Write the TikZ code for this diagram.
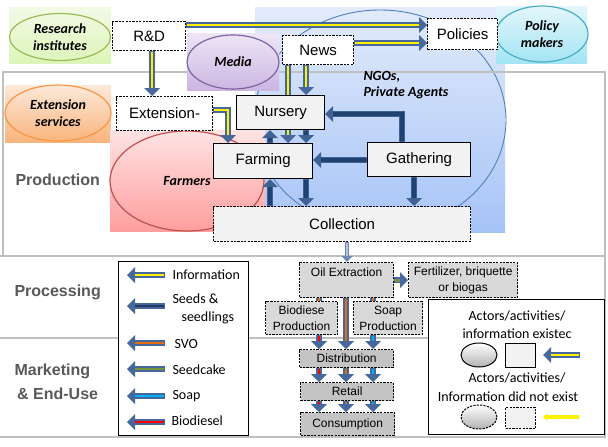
\documentclass[tikz,border=0pt]{standalone}
\usepackage{fontspec}
\setmainfont{Liberation Sans}
\newfontfamily\carl{Carlito}
\usetikzlibrary{arrows.meta,shapes.geometric}
\pgfdeclarelayer{shapes}
\pgfdeclarelayer{flows}
\pgfsetlayers{shapes,flows,main}
\definecolor{bord}{HTML}{46689C}
\definecolor{navy}{HTML}{1F3864}
\definecolor{darkb}{HTML}{1F4272}
\definecolor{darkbord}{HTML}{3D6293}
\definecolor{svo}{HTML}{E46C0A}
\definecolor{cake}{HTML}{77933C}
\definecolor{soapc}{HTML}{00B0F0}
\definecolor{dies}{HTML}{FF0000}
\definecolor{lanec}{HTML}{C0C0C0}
\definecolor{lanetxt}{HTML}{595959}
\definecolor{boxfill}{HTML}{F2F2F2}
\definecolor{pfill}{HTML}{D9D9D9}
\definecolor{mfill}{HTML}{C4C4C4}
\definecolor{ngotop}{HTML}{E2EBFB}
\definecolor{ngobot}{HTML}{A6C3F7}
\definecolor{ngoline}{HTML}{4F81BD}
\definecolor{ritop}{HTML}{F2FAE6}
\definecolor{ribot}{HTML}{DDF5B8}
\definecolor{riline}{HTML}{9BBB59}
\definecolor{extop}{HTML}{FDE9D9}
\definecolor{exbot}{HTML}{F9B47C}
\definecolor{exline}{HTML}{F79646}
\definecolor{metop}{HTML}{EEE6F6}
\definecolor{mebot}{HTML}{CBB6E2}
\definecolor{meline}{HTML}{8064A2}
\definecolor{potop}{HTML}{E3F6FB}
\definecolor{pobot}{HTML}{A3E4F4}
\definecolor{poline}{HTML}{4BACC6}
\definecolor{fatop}{HTML}{FFE3E3}
\definecolor{fabot}{HTML}{FF9E9E}
\definecolor{faline}{HTML}{C0504D}
\definecolor{thinb}{HTML}{6A88B2}
\definecolor{thinin}{HTML}{B7C4D6}

\tikzset{
  flowout/.style={draw=#1, line width=6pt, -{Triangle[length=8pt,width=16pt,line width=0pt]}},
  flowin/.style={draw=#1, line width=2.8pt, shorten >=8pt, shorten <=1.2pt},
  darkin/.style={draw=#1, line width=3.6pt, shorten >=8pt, shorten <=0.8pt},
  stubout/.style={draw=#1, line width=6pt},
  stubin/.style={draw=#1, line width=2.8pt},
  sz/.style 2 args={minimum width=#1, minimum height=#2},
  box/.style={rectangle, draw=black, line width=1.2pt, inner sep=0pt, anchor=north west,
              font=\fontsize{15}{18}\selectfont, fill=boxfill},
  dbox/.style={box, dash pattern=on 2.2pt off 1.2pt},
  pbox/.style={dbox, fill=pfill, font=\fontsize{12}{16}\selectfont, align=center},
  mbox/.style={dbox, fill=mfill, font=\fontsize{12}{16}\selectfont},
  actor/.style={ellipse, line width=1.2pt, inner sep=0pt, align=center,
                font=\carl\bfseries\itshape\fontsize{14}{17.5}\selectfont},
  lanelab/.style={anchor=west, align=left, text=lanetxt, font=\bfseries\fontsize{16}{24}\selectfont},
  legtxt/.style={anchor=west, align=left, font=\carl\fontsize{14}{18}\selectfont},
  rlegtxt/.style={font=\carl\fontsize{14}{17}\selectfont},
}
\newcommand\flw[3][bord]{\draw[flowout=#1] #3; \draw[flowin=#2] #3;}
\newcommand\dflw[1]{\draw[flowout=darkbord] #1; \draw[darkin=darkb] #1;}
\newcommand\stub[3][bord]{\draw[stubout=#1] #3; \draw[stubin=#2] #3;}

\begin{document}
\begin{tikzpicture}[x=1pt,y=-1pt]
\useasboundingbox (0,0) rectangle (608,447);

% helper coordinates
\coordinate (X152) at (152,0);
\coordinate (X228) at (228,0);
\coordinate (X270) at (270,0);
\coordinate (X288) at (288,0);
\coordinate (X306) at (306,0);
\coordinate (X402) at (402,0);
\coordinate (X414) at (414,0);
\coordinate (X347) at (347,0);
\coordinate (X319) at (319,0);
\coordinate (X346) at (346,0);
\coordinate (X373) at (373,0);
\coordinate (Y25) at (0,25);
\coordinate (Y43) at (0,43);
\coordinate (Y110) at (0,110);
\coordinate (Y114) at (0,114);
\coordinate (Y160) at (0,160);

\begin{pgfonlayer}{shapes}
  \fill[white] (0,0) rectangle (608,447);
  % NGOs / private agents
  \shade[top color=ngotop, bottom color=ngobot] (255,7) rectangle (505,232);
  \draw[ngoline, line width=0.9pt] (380,120) ellipse [x radius=126pt, y radius=110pt];
  % lanes
  \draw[lanec, line width=1.5pt] (3,72) rectangle (605,256);
  \draw[lanec, line width=1.5pt] (-5,256) rectangle (605,338);
  \draw[lanec, line width=1.5pt] (-5,338) rectangle (605,437);
  % actors
  \shade[top color=ritop, bottom color=ribot] (9,7) rectangle (111,63);
  \node[actor, draw=riline, sz={101pt}{47pt}] (ri) at (60,37) {Research\\institutes};
  \shade[top color=extop, bottom color=exbot] (5,85) rectangle (111,142);
  \node[actor, draw=exline, sz={106pt}{56pt}] (es) at (58,113) {Extension\\services};
  \shade[top color=metop, bottom color=mebot] (187,33) rectangle (279,90);
  \node[actor, draw=meline, sz={92pt}{54pt}] (me) at (233,62) {Media};
  \shade[top color=potop, bottom color=pobot] (496,6) rectangle (587,63);
  \node[actor, draw=poline, sz={92pt}{56pt}] (pm) at (542,34) {Policy\\makers};
  \shade[top color=fatop, bottom color=fabot] (110,130) rectangle (265,231);
  \node[actor, draw=faline, sz={154pt}{100pt}] (fa) at (187,181) {Farmers};
  \node[anchor=west, align=left, font=\carl\bfseries\itshape\fontsize{14}{16}\selectfont] (ngo) at (360,85) {NGOs,\\Private Agents};
  % lane labels
  \node[lanelab] (lprod) at (12,180) {Production};
  \node[lanelab] (lproc) at (11,292) {Processing};
  \node[lanelab] (lmark) at (11,382) {Marketing\\\,\& End-Use};
  % legends
  \node[rectangle, draw=black, line width=1.2pt, fill=white, anchor=north west, sz={130pt}{174pt}] (legL) at (118,261) {};
  \node[rectangle, draw=black, line width=1.2pt, fill=white, anchor=north west, sz={176pt}{135pt}] (legR) at (428,299) {};
\end{pgfonlayer}

% production nodes
\node[dbox, fill=white, sz={73pt}{29pt}] (rd) at (112,21) {R\&D};
\node[dbox, fill=white, sz={71pt}{29pt}] (news) at (282,35) {News};
\node[dbox, fill=white, sz={70pt}{31pt}] (pol) at (427,18) {Policies};
\node[dbox, fill=white, sz={96pt}{34pt}] (ext) at (116,96) {Extension-};
\node[box, sz={88pt}{34pt}] (nur) at (236,95) {Nursery};
\node[box, sz={99pt}{35pt}] (farm) at (213,143) {Farming};
\node[box, sz={103pt}{34pt}] (gath) at (367,142) {Gathering};
\node[dbox, sz={257pt}{35pt}] (coll) at (213,206) {Collection};

% processing / marketing nodes
\node[pbox, minimum width=94pt, text height=14pt, text depth=21pt] (oil) at (299,262) {Oil Extraction};
\node[pbox, sz={109pt}{35pt}] (fert) at (408,262) {Fertilizer, briquette\\or biogas};
\node[pbox, sz={72pt}{33pt}] (bio) at (265,301) {Biodiese\\Production};
\node[pbox, sz={69pt}{33pt}] (soap) at (353,301) {Soap\\Production};
\node[mbox, sz={94pt}{18pt}] (dist) at (299,349) {Distribution};
\node[mbox, sz={93pt}{18pt}] (ret) at (300,382) {Retail};
\node[mbox, sz={94pt}{23pt}] (cons) at (300,412) {Consumption};

% legend (left)
\node[legtxt] (t1) at (169,275) {Information};
\node[legtxt] (t2) at (169,309) {Seeds \&\\\hspace*{9pt}seedlings};
\node[legtxt] (t3) at (171,344) {SVO};
\node[legtxt] (t4) at (169,370) {Seedcake};
\node[legtxt] (t5) at (169,396) {Soap};
\node[legtxt] (t6) at (168,421) {Biodiesel};
\foreach \i/\y in {1/275,2/306,3/343,4/369,5/396,6/422}{
  \coordinate (la\i) at (165,\y);
  \coordinate (lb\i) at (127,\y);
}
% legend (right)
\node[rlegtxt] (r1) at (517,316) {Actors/activities/};
\node[rlegtxt] (r2) at (517,334) {information existec};
\node[ellipse, draw=black, line width=1pt, top color=white, bottom color=black!30, sz={36pt}{24pt}] (re1) at (479,355) {};
\node[box, line width=1pt, sz={30pt}{24pt}] (rs1) at (505,343) {};
\node[rlegtxt] (r3) at (517,378) {Actors/activities/};
\node[rlegtxt] (r4) at (508,397) {Information did not exist};
\node[ellipse, draw=black, line width=1pt, dash pattern=on 2.2pt off 1.2pt, top color=white, bottom color=black!30, sz={36pt}{24pt}] (re2) at (479,417) {};
\node[dbox, line width=1pt, sz={30pt}{21pt}] (rs2) at (505,407) {};
\coordinate (ra1) at (580,355);
\coordinate (rb1) at (543,355);
\coordinate (ra2) at (579,417);
\coordinate (rb2) at (543,417);

\begin{pgfonlayer}{flows}
  % information flows
  \flw{yellow}{(rd.east |- Y25) -- (pol.west |- Y25)}
  \flw{yellow}{(news.east |- Y43) -- (pol.west |- Y43)}
  \flw{yellow}{(X152 |- rd.south) -- (X152 |- ext.north)}
  \flw{yellow}{(ext.east |- Y110) -| (X228 |- farm.north)}
  \flw{yellow}{(X306 |- news.south) -- (X306 |- nur.north)}
  \flw{yellow}{(X288 |- news.south) -- (X288 |- farm.north)}
  % seeds and seedlings
  \dflw{(X270 |- farm.north) -- (X270 |- nur.south)}
  \dflw{(X306 |- nur.south) -- (X306 |- farm.north)}
  \dflw{(X402 |- gath.north) |- (nur.east |- Y114)}
  \dflw{(gath.west |- Y160) -- (farm.east |- Y160)}
  \dflw{(X306 |- farm.south) -- (X306 |- coll.north)}
  \dflw{(X270 |- coll.north) -- (X270 |- farm.south)}
  \dflw{(X414 |- gath.south) -- (X414 |- coll.north)}
  % collection to oil extraction
  \draw[thinb, line width=4pt, -{Triangle[length=6pt,width=11pt,line width=0pt]}] (X347 |- coll.south) -- (X347 |- oil.north);
  \draw[thinin, line width=1.4pt, shorten >=6pt, shorten <=1pt] (X347 |- coll.south) -- (X347 |- oil.north);
  % processing flows
  \stub{svo}{(X319 |- oil.south) -- (X319 |- bio.north)}
  \stub{svo}{(X373 |- oil.south) -- (X373 |- soap.north)}
  \flw{svo}{(X346 |- oil.south) -- (X346 |- dist.north)}
  \flw{cake}{(oil.east) -- (fert.west)}
  \flw{dies}{(X319 |- bio.south) -- (X319 |- dist.north)}
  \flw{soapc}{(X373 |- soap.south) -- (X373 |- dist.north)}
  \flw{dies}{(X319 |- dist.south) -- (X319 |- ret.north)}
  \flw{svo}{(X346 |- dist.south) -- (X346 |- ret.north)}
  \flw{soapc}{(X373 |- dist.south) -- (X373 |- ret.north)}
  \flw{dies}{(X319 |- ret.south) -- (X319 |- cons.north)}
  \flw{svo}{(X346 |- ret.south) -- (X346 |- cons.north)}
  \flw{soapc}{(X373 |- ret.south) -- (X373 |- cons.north)}
  % legend arrows
  \flw{yellow}{(la1) -- (lb1)}
  \flw{navy}{(la2) -- (lb2)}
  \flw{svo}{(la3) -- (lb3)}
  \flw{cake}{(la4) -- (lb4)}
  \flw{soapc}{(la5) -- (lb5)}
  \flw{dies}{(la6) -- (lb6)}
  \flw{yellow}{(ra1) -- (rb1)}
  \draw[yellow, line width=4pt, -{Triangle[length=4pt,width=7pt,line width=0pt]}] (ra2) -- (rb2);
\end{pgfonlayer}
\end{tikzpicture}
\end{document}
